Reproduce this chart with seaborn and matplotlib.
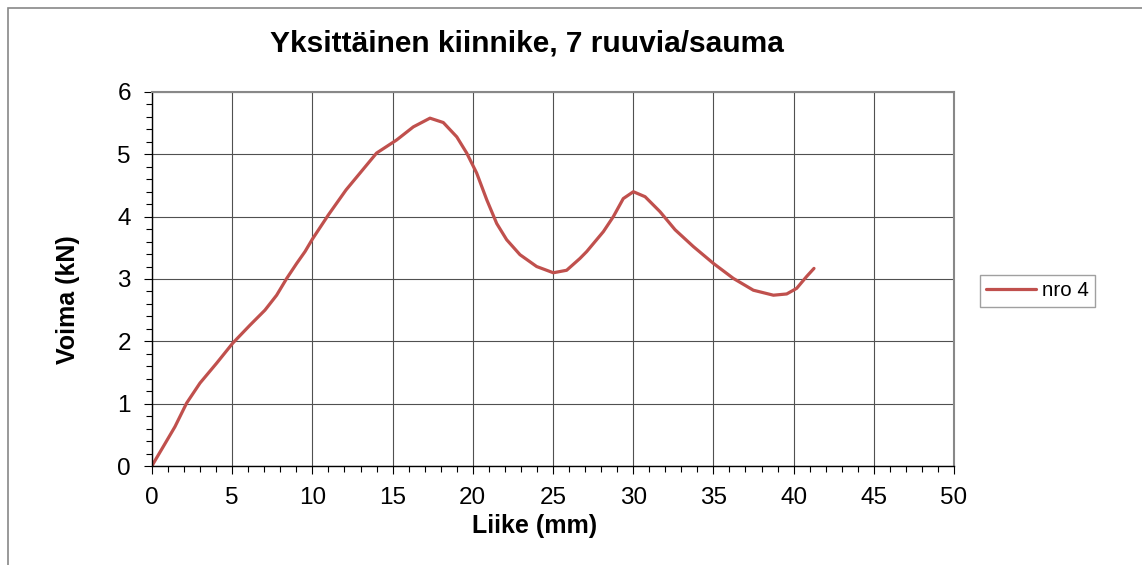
import numpy as np
import pandas as pd
import seaborn as sns
import matplotlib.pyplot as plt
from matplotlib.patches import Rectangle
from matplotlib.ticker import MultipleLocator

# values
liike = [0.0, 0.08, 0.70, 1.43, 2.16, 2.99, 4.03, 5.03, 6.11, 7.04, 7.77, 8.40, 9.02,
         9.54, 10.0, 11.0, 12.1, 12.97, 14.0, 15.25, 16.29, 17.33, 18.16, 19.0,
         19.62, 20.24, 20.87, 21.49, 22.11, 22.94, 23.98, 25.02, 25.85, 26.68,
         27.1, 28.14, 28.76, 29.38, 30.01, 30.74, 31.67, 32.61, 33.75, 35.0, 36.24,
         37.49, 38.74, 39.57, 40.19, 40.81, 41.27]
voima = [0.0, 0.04, 0.31, 0.63, 1.01, 1.33, 1.65, 1.97, 2.26, 2.50, 2.74, 3.01, 3.25,
         3.44, 3.64, 4.03, 4.43, 4.70, 5.02, 5.23, 5.44, 5.58, 5.51, 5.28,
         5.02, 4.70, 4.27, 3.89, 3.63, 3.39, 3.20, 3.10, 3.14, 3.33,
         3.44, 3.76, 4.00, 4.29, 4.40, 4.32, 4.08, 3.79, 3.52, 3.25, 3.01,
         2.82, 2.74, 2.76, 2.85, 3.04, 3.17]
sarja = 'nro 4'

df = pd.DataFrame({'Liike': liike, 'Voima': voima})

sns.set_style('white')
plt.rcParams['font.family'] = ['Liberation Sans', 'DejaVu Sans']
plt.rcParams['text.color'] = 'black'
plt.rcParams['xtick.color'] = 'black'
plt.rcParams['ytick.color'] = 'black'

fig = plt.figure(figsize=(11.42, 5.65), dpi=100)
ax = fig.add_axes([0.1331, 0.1752, 0.8354 - 0.1331, 0.8372 - 0.1752])

sns.lineplot(data=df, x='Liike', y='Voima', color='#c0504d', linewidth=2.3,
             label=sarja, sort=False, ax=ax)
ax.lines[0].set_solid_joinstyle('round')

ax.set_xlim(0, 50)
ax.set_ylim(0, 6)
ax.xaxis.set_major_locator(MultipleLocator(5))
ax.xaxis.set_minor_locator(MultipleLocator(1))
ax.yaxis.set_major_locator(MultipleLocator(1))
ax.yaxis.set_minor_locator(MultipleLocator(0.2))
ax.grid(True, which='major', color='#505050', linewidth=0.8)
ax.tick_params(which='major', direction='out', length=5.8, width=0.8, color='black',
               labelsize=17.5, pad=9.5, bottom=True, left=True)
ax.tick_params(which='minor', direction='out', length=4.2, width=0.8, color='black',
               bottom=True, left=True)
for s in ['left', 'bottom']:
    ax.spines[s].set_color('black')
    ax.spines[s].set_linewidth(1.0)
for s in ['top', 'right']:
    ax.spines[s].set_color('#888888')
    ax.spines[s].set_linewidth(1.5)
ax.set_xlabel('')
ax.set_ylabel('')

fig.text(0.4615, 1 - 43 / 565, 'Yksittäinen kiinnike, 7 ruuvia/sauma', ha='center',
         va='center', fontsize=21.5, fontweight='bold')
fig.text(535 / 1142, 1 - 526 / 565, 'Liike (mm)', ha='center', va='center',
         fontsize=18, fontweight='bold')
fig.text(68 / 1142, 1 - 300 / 565, 'Voima (kN)', ha='center', va='center',
         rotation=90, fontsize=18, fontweight='bold')

ax.legend(loc='center left', bbox_to_anchor=(980 / 1142, 1 - 291 / 565),
          bbox_transform=fig.transFigure, frameon=True, fancybox=False,
          edgecolor='#888888', fontsize=14.8, handlelength=2.4, borderpad=0.3,
          borderaxespad=0, handletextpad=0.3, labelcolor='black')

fig.patches.append(Rectangle((8 / 1142, -0.05), 1.2, 1 - 8 / 565 + 0.05,
                             transform=fig.transFigure, fill=False,
                             edgecolor='#888888', linewidth=1.2))

fig.savefig('out.png', dpi=100)
